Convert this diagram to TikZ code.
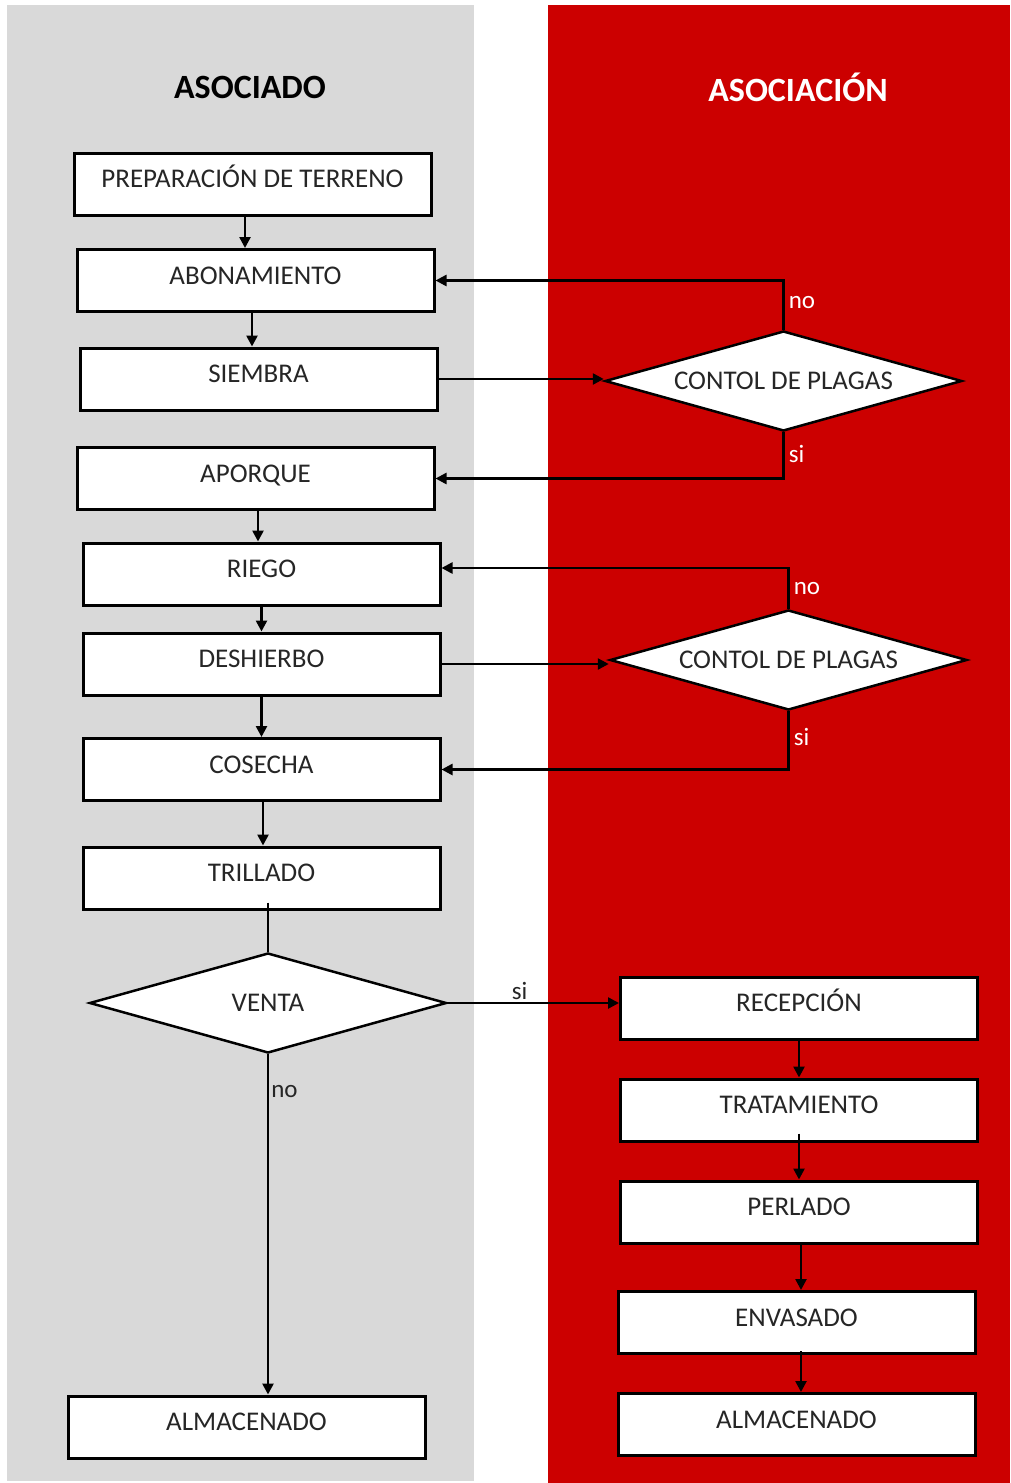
\documentclass[tikz,border=0pt]{standalone}
\usepackage{fontspec}
\setmainfont{Carlito}
\usetikzlibrary{shapes.geometric,arrows.meta,calc}
\definecolor{panelgray}{HTML}{D9D9D9}
\definecolor{panelred}{HTML}{CC0000}
\definecolor{txt}{HTML}{262626}
\begin{document}
\begin{tikzpicture}[x=1pt,y=-1pt,
  box/.style={draw=black, line width=3pt, fill=white, minimum width=357pt, minimum height=62pt,
    inner sep=0pt, font=\fontsize{27}{30}\selectfont, text=txt, text height=17pt, text depth=10pt},
  dec/.style={diamond, aspect=3.57, draw=black, line width=2.5pt, fill=white, minimum width=357pt, minimum height=100pt,
    inner sep=0pt, font=\fontsize{27}{30}\selectfont, text=txt},
  arr/.style={line width=2.5pt, -{Triangle[length=11pt,width=11pt]}},
  plain/.style={line width=2.5pt},
  lblw/.style={font=\fontsize{25}{28}\selectfont, text=white, inner sep=4pt},
  lblb/.style={font=\fontsize{25}{28}\selectfont, text=txt, inner sep=2pt},
  ttl/.style={font=\bfseries\fontsize{34}{38}\selectfont}]
\useasboundingbox (0,0) rectangle (1010,1483);
\fill[white] (0,0) rectangle (1010,1483);
\fill[panelgray] (7,5) rectangle (474,1481);
\fill[panelred] (548,5) rectangle (1010,1483);

\node[ttl, text=black] (t1) at (250,87) {ASOCIADO};
\node[ttl, text=white] (t2) at (798,87) {ASOCIACIÓN};

\node[box] (prep)  at (252.5,184)  {PREPARACIÓN DE TERRENO};
\node[box] (abon)  at (255.5,280.5) {ABONAMIENTO};
\node[box] (siem)  at (258.5,379)  {SIEMBRA};
\node[box] (apor)  at (255.5,478.5) {APORQUE};
\node[box] (riego) at (261.5,574)  {RIEGO};
\node[box] (desh)  at (261.5,664)  {DESHIERBO};
\node[box] (cose)  at (261.5,769.5) {COSECHA};
\node[box] (trill) at (261.5,878)  {TRILLADO};
\node[dec] (venta) at (268,1003)   {VENTA};
\node[box] (almA)  at (246.5,1427) {ALMACENADO};

\node[dec] (d1) at (783.5,381) {CONTOL DE PLAGAS};
\node[dec] (d2) at (788.5,660) {CONTOL DE PLAGAS};

\node[box] (recep) at (799,1008)   {RECEPCIÓN};
\node[box] (trat)  at (799,1110)   {TRATAMIENTO};
\node[box] (perl)  at (799,1212)   {PERLADO};
\node[box] (env)   at (796.5,1322.5) {ENVASADO};
\node[box] (almB)  at (796.5,1424.5) {ALMACENADO};

% left column flow
\draw[arr] ([xshift=-7.5pt]prep.south) -- ([xshift=-7.5pt]prep.south |- abon.north);
\draw[arr] ([xshift=-3.5pt]abon.south) -- ([xshift=-3.5pt]abon.south |- siem.north);
\draw[arr] ([xshift=2.5pt]apor.south) -- ([xshift=2.5pt]apor.south |- riego.north);
\draw[arr] (riego.south) -- (riego.south |- desh.north);
\draw[arr] (desh.south) -- (desh.south |- cose.north);
\draw[arr] ([xshift=1.5pt]cose.south) -- ([xshift=1.5pt]cose.south |- trill.north);
\draw[plain] ([yshift=8pt]venta.north |- trill.south) -- (venta.north);
\draw[arr] (venta.south) -- node[pos=0.11, right, lblb] (lno3) {no} (venta.south |- almA.north);
\draw[arr] (venta.east) -- node[pos=0.42, above, lblb] (lsi3) {si} (venta.east -| recep.west);

% pest control loops
\draw[arr] (siem.east) -- (siem.east -| d1.west);
\draw[arr] (d1.north) |- node[pos=0.28, right, lblw] (lno1) {no} (abon.east);
\draw[arr] (d1.south) |- node[pos=0.24, right, lblw] (lsi1) {si} (apor.east);
\draw[arr] (desh.east) -- (desh.east -| d2.west);
\draw[arr] (d2.north) |- node[pos=0.25, right, lblw] (lno2) {no} ([yshift=6pt]riego.east);
\draw[arr] (d2.south) |- node[pos=0.22, right, lblw] (lsi2) {si} (cose.east);

% right column flow
\draw[arr] (recep.south) -- (recep.south |- trat.north);
\draw[arr] ([yshift=9pt]trat.south) -- (trat.south |- perl.north);
\draw[arr] ([xshift=2pt]perl.south) -- ([xshift=2pt]perl.south |- env.north);
\draw[arr] ([xshift=4.5pt,yshift=4pt]env.south) -- ([xshift=4.5pt]env.south |- almB.north);
\end{tikzpicture}
\end{document}
